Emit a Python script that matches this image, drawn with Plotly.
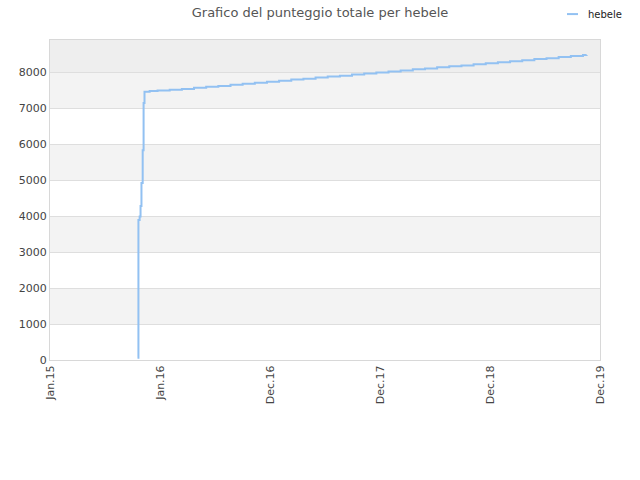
import plotly.graph_objects as go

# punteggio totale di hebele
dates = [
    "2015-10-21", "2015-10-24", "2015-10-28", "2015-10-31", "2015-11-03",
    "2015-11-07", "2015-11-10", "2015-11-13", "2015-11-30", "2015-12-26",
    "2016-02-04", "2016-03-15", "2016-04-24", "2016-06-03", "2016-07-13",
    "2016-08-22", "2016-10-01", "2016-11-10", "2016-12-20", "2017-01-29",
    "2017-03-10", "2017-04-19", "2017-05-29", "2017-07-08", "2017-08-17",
    "2017-09-26", "2017-11-05", "2017-12-15", "2018-01-24", "2018-03-05",
    "2018-04-14", "2018-05-24", "2018-07-03", "2018-08-12", "2018-09-21",
    "2018-10-31", "2018-12-10", "2019-01-19", "2019-02-28", "2019-04-09",
    "2019-05-19", "2019-06-28", "2019-08-07", "2019-09-16", "2019-10-26",
    "2019-11-07",
]
points = [
    60, 3890, 3990, 4280, 4920,
    5830, 7140, 7450, 7470, 7490,
    7505, 7530, 7560, 7590, 7615,
    7645, 7675, 7700, 7730, 7760,
    7790, 7815, 7845, 7875, 7900,
    7930, 7960, 7990, 8015, 8045,
    8075, 8100, 8130, 8160, 8185,
    8215, 8245, 8275, 8300, 8330,
    8360, 8385, 8415, 8445, 8470,
    8475,
]

tick_dates = ["2015-01-06", "2016-01-03", "2016-12-30", "2017-12-27", "2018-12-24", "2019-12-21"]
tick_labels = ["Jan.15", "Jan.16", "Dec.16", "Dec.17", "Dec.18", "Dec.19"]

y_top = 8890
bands = [(1000, 2000, "#f3f3f3"), (3000, 4000, "#f3f3f3"), (5000, 6000, "#f3f3f3"),
         (7000, 8000, "#f3f3f3"), (8000, y_top, "#eeeeee")]
line_col = "#92c1f2"

fig = go.Figure()
fig.add_trace(go.Scatter(x=dates, y=points, mode="lines", name="hebele",
                         line=dict(color=line_col, width=2, shape="hv")))

for y0, y1, col in bands:
    fig.add_shape(type="rect", xref="paper", yref="y", x0=0, x1=1, y0=y0, y1=y1,
                  fillcolor=col, line_width=0, layer="below")

# legenda fatta a mano (simbolo corto come nell'originale)
fig.add_shape(type="line", xref="paper", yref="paper", x0=0.94, x1=0.96, y0=1.081, y1=1.081,
              line=dict(color=line_col, width=2))
fig.add_annotation(text="hebele", xref="paper", yref="paper", x=0.974, y=1.081,
                   xanchor="left", yanchor="middle", showarrow=False,
                   font=dict(size=10, color="#222"))

fig.update_layout(
    width=640, height=480,
    margin=dict(l=50, r=40, t=40, b=120),
    paper_bgcolor="white", plot_bgcolor="white",
    font=dict(family="DejaVu Sans", size=11, color="#444"),
    title=dict(text="Grafico del punteggio totale per hebele", x=0.5, xanchor="center",
               y=0.975, yanchor="middle", font=dict(size=13, color="#555")),
    showlegend=False,
    xaxis=dict(type="date", range=[tick_dates[0], tick_dates[-1]],
               tickvals=tick_dates, ticktext=tick_labels, tickangle=-90,
               showgrid=False, showline=True, linecolor="#d8d8d8", mirror=True,
               ticks="", zeroline=False),
    yaxis=dict(range=[0, y_top], dtick=1000, showgrid=True, gridcolor="#dedede",
               showline=True, linecolor="#d8d8d8", mirror=True, ticks="",
               zeroline=False),
)

fig.write_html("out.html", config={"displayModeBar": False},
               post_script="document.body.style.margin='0';")
